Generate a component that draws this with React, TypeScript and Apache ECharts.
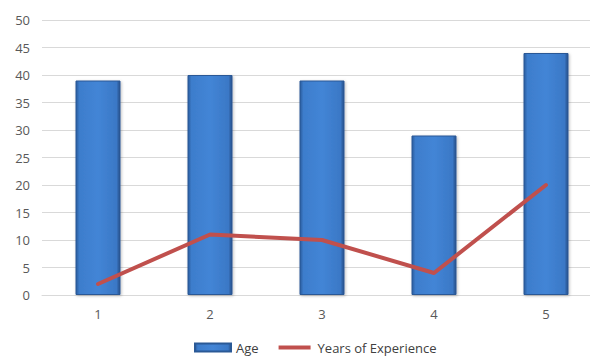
import React, { useEffect, useRef } from "react";
import * as echarts from "echarts";

const categories = ["1", "2", "3", "4", "5"];
const ageValues = [39, 40, 39, 29, 44];
const experienceValues = [2, 11, 10, 4, 20];

export default function App() {
  const ref = useRef<HTMLDivElement>(null);

  useEffect(() => {
    if (!ref.current) return;
    const chart = echarts.init(ref.current, null, { renderer: "svg" });

    const barFill = new echarts.graphic.LinearGradient(0, 0, 1, 0, [
      { offset: 0, color: "#2B5C9E" },
      { offset: 0.08, color: "#3D7DCC" },
      { offset: 0.5, color: "#4385D6" },
      { offset: 0.92, color: "#3A78C6" },
      { offset: 1, color: "#264F88" },
    ]);

    chart.setOption({
      animation: false,
      textStyle: { fontFamily: "Open Sans, Noto Sans, sans-serif" },
      // plot area runs past the visible right edge, as in the original layout
      grid: { left: 42, top: 20, width: 560, height: 275 },
      legend: {
        top: 336,
        left: 189,
        itemGap: 16,
        itemWidth: 36,
        itemHeight: 8,
        textStyle: { color: "#404040", fontSize: 13 },
        data: [
          { name: "Age", icon: "rect" },
          {
            name: "Years of Experience",
            icon: "rect",
            // white outline trims the swatch down to a line-like stroke
            itemStyle: { color: "#C0504D", borderColor: "#fff", borderWidth: 4 },
          },
        ],
      },
      xAxis: {
        type: "category",
        data: categories,
        axisLine: { lineStyle: { color: "#D9D9D9" } },
        axisTick: { show: false },
        axisLabel: { color: "#595959", fontSize: 13, margin: 12 },
      },
      yAxis: {
        type: "value",
        min: 0,
        max: 50,
        interval: 5,
        axisLine: { show: false },
        axisTick: { show: false },
        splitLine: { lineStyle: { color: "#D9D9D9" } },
        axisLabel: { color: "#595959", fontSize: 13, margin: 12 },
      },
      series: [
        {
          name: "Age",
          type: "bar",
          data: ageValues,
          barWidth: 45,
          itemStyle: {
            color: barFill,
            borderColor: "#2A5996",
            borderWidth: 1,
            shadowColor: "rgba(0,0,0,0.25)",
            shadowBlur: 3,
            shadowOffsetX: 1,
            shadowOffsetY: 1,
          },
        },
        {
          name: "Years of Experience",
          type: "line",
          data: experienceValues,
          symbol: "none",
          lineStyle: { color: "#C0504D", width: 4, cap: "round", join: "round" },
          itemStyle: { color: "#C0504D" },
        },
      ],
    });

    return () => chart.dispose();
  }, []);

  return (
    <div
      style={{
        position: "fixed",
        left: 0,
        top: 0,
        width: 590,
        height: 356,
        overflow: "hidden",
        background: "#fff",
      }}
    >
      <div ref={ref} style={{ width: 620, height: 356 }} />
    </div>
  );
}
